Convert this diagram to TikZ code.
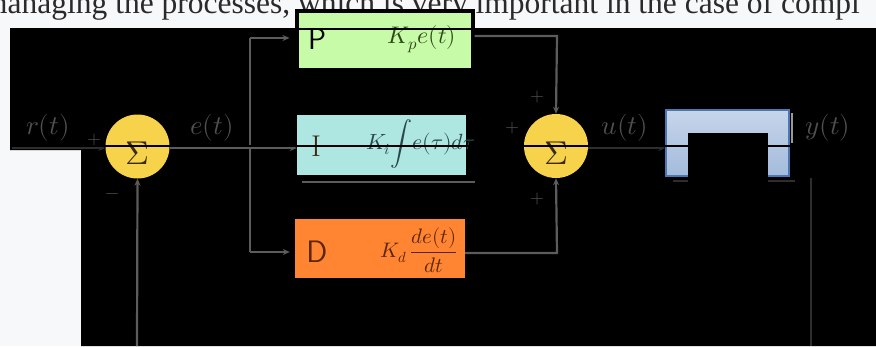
\documentclass[tikz,border=0pt]{standalone}
\usepackage{fontspec}
\usepackage{unicode-math}
\setmathfont{Latin Modern Math}
\newfontfamily\topfont{Liberation Serif}
\usetikzlibrary{arrows.meta}
\definecolor{bgc}{HTML}{F7F8FA}
\definecolor{topc}{HTML}{2A2A2A}
\definecolor{wirec}{HTML}{5C5C5C}
\definecolor{dimc}{HTML}{2E2E2E}
\definecolor{lblc}{HTML}{505050}
\definecolor{sumc}{HTML}{F6D34B}
\definecolor{sigc}{HTML}{3A2A12}
\definecolor{pcol}{HTML}{C8FBA8}
\definecolor{icol}{HTML}{AEE6E2}
\definecolor{dcol}{HTML}{FF8533}
\definecolor{ptxt}{HTML}{2C4A18}
\definecolor{itxt}{HTML}{28484A}
\definecolor{dtxt}{HTML}{5A2508}
\definecolor{plantTop}{HTML}{C6D5EA}
\definecolor{plantBot}{HTML}{A4BBDC}
\definecolor{plantEdge}{HTML}{4A78B4}
\tikzset{
  wire/.style={draw=wirec, line width=2.2pt},
  arr/.style={wire, -{Stealth[length=7pt,width=6pt]}},
  sumnode/.style={circle, fill=sumc, minimum size=64pt, inner sep=0pt},
  sigtxt/.style={text=sigc, inner sep=0pt, font=\fontsize{33}{33}\selectfont},
  pidbox/.style={rectangle, inner sep=0pt, minimum height=59pt},
  bigletter/.style={inner sep=0pt, font=\fontsize{30}{30}\selectfont},
  lbl/.style={text=lblc, inner sep=0pt, font=\fontsize{27}{27}\selectfont},
  sgn/.style={text=lblc, inner sep=0pt, font=\fontsize{18}{18}\selectfont},
}
\begin{document}
\begin{tikzpicture}[x=1pt,y=-1pt]
\useasboundingbox (0,0) rectangle (876,346);
\fill[bgc] (0,0) rectangle (876,346);
% top text line
\node[anchor=base west, inner sep=0pt, text=topc, font=\topfont\fontsize{31.5}{36}\selectfont] (toptext) at (-17,13.5) {managing the processes, which is very important in the case of compl};
% black backdrop
\fill[black] (10,28) -- (876,28) -- (876,346) -- (81,346) -- (81,150) -- (10,150) -- cycle;

% blocks
\node[pidbox, fill=pcol, draw=black, line width=4pt, minimum width=176pt] (P) at (384.5,40.5) {};
\node[pidbox, fill=icol, minimum width=169pt, minimum height=60pt] (I) at (381.5,145) {};
\node[pidbox, fill=dcol, minimum width=170pt] (D) at (380,248.5) {};

\node[bigletter, text=black, font=\sffamily\fontsize{30}{30}\selectfont] (Pl) at (317,39) {P};
\node[bigletter, text=sigc] (Il) at (316,146) {I};
\node[bigletter, text=dtxt, font=\sffamily\fontsize{31}{31}\selectfont] (Dl) at (317,252) {D};

\node[inner sep=0pt, text=ptxt, font=\fontsize{24}{24}\selectfont] (Pf) at (422,39) {$K_p e(t)$};
\node[inner sep=0pt, text=itxt, font=\fontsize{22}{22}\selectfont, anchor=west] (If) at (366,144) {$K_i\!\displaystyle\int\! e(\tau)d\tau$};
\node[inner sep=0pt, text=dtxt, font=\fontsize{21}{21}\selectfont] (Df) at (419,250) {$K_d\,\displaystyle\frac{de(t)}{dt}$};

% summing junctions
\node[sumnode] (s1) at (137.5,146.5) {};
\node[sumnode] (s2) at (556,146) {};
\node[sigtxt] (s1t) at (137,153) {$\Sigma$};
\node[sigtxt] (s2t) at (556,153) {$\Sigma$};

% plant
\node[rectangle, minimum width=123pt, minimum height=66pt, top color=plantTop, bottom color=plantBot, draw=plantEdge, line width=1.2pt] (G) at (727.5,143) {};

% wiring
\coordinate (rin) at (12,148);
\coordinate (br) at (250,148);
\coordinate (brtop) at (250,38);
\coordinate (brbot) at (250,252);
\coordinate (pr) at (557,36);
\coordinate (dr) at (557,253);
\coordinate (fb1) at (137,346);
\coordinate (yt) at (811,178);
\coordinate (yb) at (811,346);
\coordinate (ys1) at (792,113);
\coordinate (ys2) at (792,143);
\coordinate (ish1) at (302,182);
\coordinate (ish2) at (475,182);
\coordinate (gsh1) at (673,181);
\coordinate (gsh2) at (795,181);

\draw[arr, draw=dimc] (rin) -- (s1.west |- rin);
\draw[arr] (s1.east |- br) -- (I.west |- br);
\draw[wire] (brtop) -- (brbot);
\draw[arr, shorten >=5pt] (brtop) -- (P.west |- brtop);
\draw[arr, shorten >=5pt] (brbot) -- (D.west |- brbot);
\draw[arr] (P.east |- pr) -- (pr) -- (s2.north);
\draw[arr] (D.east |- dr) -- (dr) -- (s2.south);
\draw[arr, draw=dimc] (s2.east |- br) -- (G.west |- br);
\draw[arr] (fb1) -- (s1.south);
\draw[draw=dimc, line width=1.8pt] (yt) -- (yb);
\draw[draw=gray!80, line width=1.4pt] (ys1) -- (ys2);
\draw[draw=wirec, line width=1.8pt] (ish1) -- (ish2);
\draw[draw=dimc, line width=1.8pt] (gsh1) -- (gsh2);

% signal labels
\node[lbl] (rt) at (48,128) {$r(t)$};
\node[lbl] (et) at (212,128) {$e(t)$};
\node[lbl] (ut) at (625,128) {$u(t)$};
\node[lbl] (yt2) at (828,128) {$y(t)$};

% signs
\node[sgn] (m1) at (95,140) {$+$};
\node[sgn] (m2) at (113,196) {$-$};
\node[sgn] (p1) at (537,97) {$+$};
\node[sgn] (p2) at (512,128) {$+$};
\node[sgn] (p3) at (537,199) {$+$};

% overlay strokes
\draw[black, line width=1.5pt] (10,146) -- (876,146);
\draw[black, line width=1.5pt] (295,29) -- (475,29);
\fill[black] (688,133) rectangle (768,191);
\end{tikzpicture}
\end{document}
